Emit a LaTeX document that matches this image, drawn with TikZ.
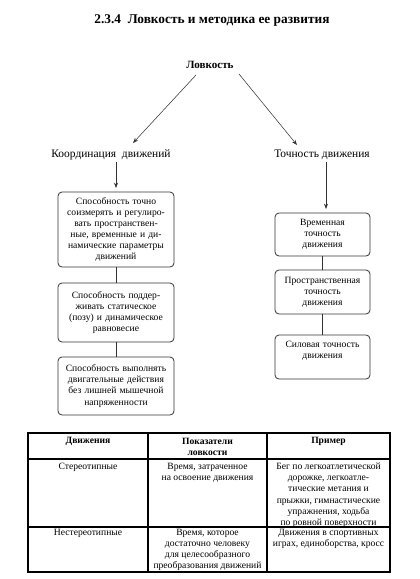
\documentclass[tikz,border=0pt]{standalone}
\usepackage{fontspec}
\setmainfont{Liberation Serif}
\usetikzlibrary{arrows.meta}
\begin{document}
\begin{tikzpicture}[x=0.75pt,y=-0.75pt,
  txt/.style={font=\fontsize{7.2}{8.3}\selectfont, inner sep=0pt, align=center},
  lbl/.style={font=\fontsize{8.6}{10}\selectfont, inner sep=0pt},
  bx/.style={draw=black!80, line width=0.6pt, rounded corners=3pt, txt, fill=white},
  lbox/.style={bx, minimum width=87pt, text width=84pt},
  rbox/.style={bx, minimum width=71.25pt, text width=69pt},
  arr/.style={-{Stealth[length=4pt,width=3pt]}, line width=0.4pt, draw=black!80},
  con/.style={line width=0.6pt, draw=black!80},
  tab/.style={line width=0.9pt},
  th/.style={txt, font=\fontsize{7.2}{8.8}\selectfont\bfseries, anchor=center},
  td/.style={txt, anchor=north}]
\useasboundingbox (0,0) rectangle (420,579);

% title
\node[inner sep=0pt, font=\fontsize{10}{12}\selectfont\bfseries] (title) at (212,21) {2.3.4\ \ Ловкость и методика ее развития};

% top level
\node[lbl, font=\fontsize{8.3}{10}\selectfont\bfseries] (lov) at (210,65) {Ловкость};
\node[lbl] (koord) at (111,155) {Координация\ \ движений};
\node[lbl] (toch) at (322,155) {Точность движения};

\coordinate (a1s) at (196,75);
\coordinate (a1e) at (133,143);
\coordinate (a2s) at (239,74);
\coordinate (a2e) at (297,145);
\draw[arr] (a1s) -- (a1e);
\draw[arr] (a2s) -- (a2e);

% left column boxes
\node[lbox, minimum height=56.25pt] (L1) at (116,229.5) {Способность точно\\соизмерять и регулиро-\\вать пространствен-\\ные, временные и ди-\\намические параметры\\движений};
\node[lbox, minimum height=44.25pt] (L2) at (116,312.5) {Способность поддер-\\живать статическое\\(позу) и динамическое\\равновесие};
\node[lbox, minimum height=43.5pt] (L3) at (116,386) {Способность выполнять\\двигательные действия\\без лишней мышечной\\напряженности};

% right column boxes
\node[rbox, minimum height=32.25pt] (R1) at (322.5,234.5) {Временная\\точность\\движения};
\node[rbox, minimum height=33pt] (R2) at (322.5,292) {Пространственная\\точность\\движения};
\node[rbox, minimum height=33pt] (R3) at (322.5,357) {Силовая точность\\движения\\\strut};

% connectors
\coordinate (kl) at (116,162);
\coordinate (kle) at (116,188);
\coordinate (tr) at (326,162);
\coordinate (tre) at (326,209);
\draw[arr] (kl) -- (kle);
\draw[arr] (tr) -- (tre);
\draw[con] (L1.south) -- (L2.north);
\draw[con] (L2.south) -- (L3.north);
\draw[con] (R1.south) -- (R2.north);
\draw[con] (R2.south) -- (R3.north);

% table
\draw[tab] (28,433) rectangle (390,572);
\draw[tab] (28,459) -- (390,459);
\draw[tab] (28,527) -- (390,527);
\draw[tab] (148,433) -- (148,572);
\draw[tab] (267,433) -- (267,572);

\node[th] (h1) at (88,441) {Движения};
\node[th] (h2) at (207.5,447) {Показатели\\ловкости};
\node[th] (h3) at (328.5,441) {Пример};

\node[td] (c11) at (88,463) {Стереотипные};
\node[td] (c12) at (207.5,463) {Время, затраченное\\на освоение движения};
\node[td] (c13) at (328.5,463) {Бег по легкоатлетической\\дорожке, легкоатле-\\тические метания и\\прыжки, гимнастические\\упражнения, ходьба\\по ровной поверхности};

\node[td] (c21) at (88,529) {Нестереотипные};
\node[td] (c22) at (207.5,529) {Время, которое\\достаточно человеку\\для целесообразного\\преобразования движений};
\node[td] (c23) at (328.5,529) {Движения в спортивных\\играх, единоборства, кросс};
\end{tikzpicture}
\end{document}
